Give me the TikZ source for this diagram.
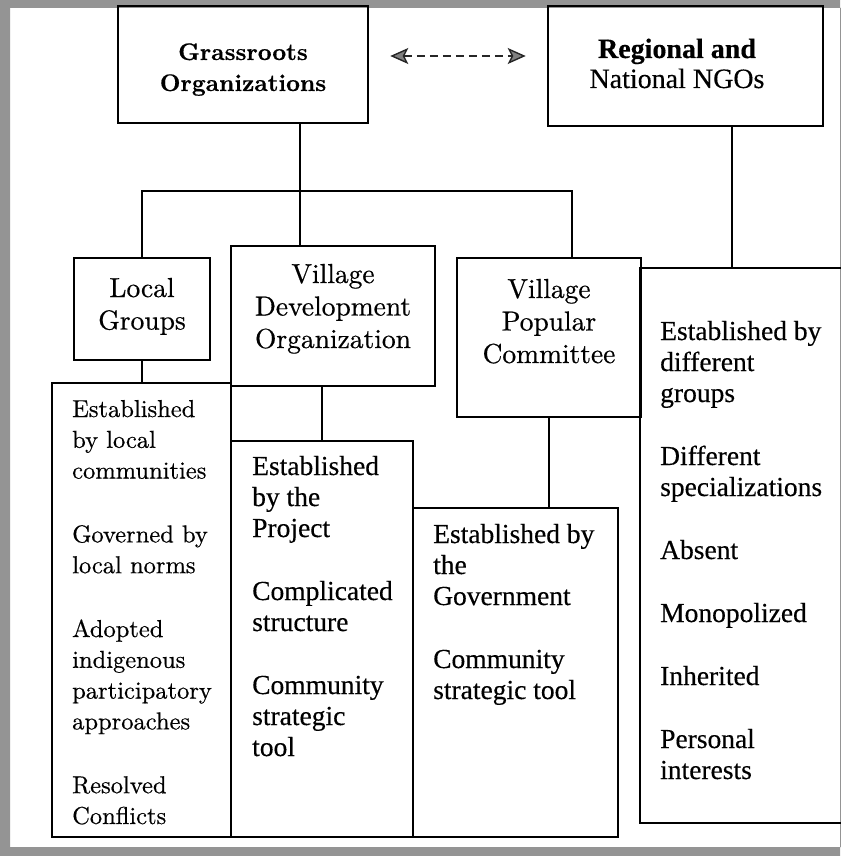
\documentclass[tikz,border=0pt]{standalone}
\usepackage{fontspec}
\setmainfont{lmroman10-regular.otf}[BoldFont=lmroman10-bold.otf, FakeBold=0.5]
\newfontfamily\tnr{Liberation Serif}[FakeBold=0.35]
\usetikzlibrary{arrows.meta}
\definecolor{framegray}{gray}{0.58}
\definecolor{tipgray}{gray}{0.5}
\tikzset{
  hbox/.style={draw=black, line width=2.6pt, inner sep=0pt},
  lbox/.style={draw=black, line width=1.3pt, inner sep=0pt},
  conn/.style={draw=black, line width=1.3pt},
  tipstyle/.style={},
  dasharrow/.style={draw=black!85, line width=2.6pt, dash pattern=on 8pt off 5pt,
    {Stealth[length=18pt,width=16pt,inset=4pt,fill=tipgray,line width=1.4pt]}-{Stealth[length=18pt,width=16pt,inset=4pt,fill=tipgray,line width=1.4pt]}},
  ttext/.style={inner sep=0pt, anchor=base west},
  ctext/.style={inner sep=0pt, anchor=base},
}
\newcommand{\hdr}[2]{\parbox[t]{#1}{\centering\fontsize{27.5}{32.5}\selectfont #2}}
\newcommand{\glist}[1]{\parbox[t]{165pt}{\raggedright\fontsize{24.5}{30.8}\selectfont #1}}
\newcommand{\tlist}[1]{\parbox[t]{178pt}{\raggedright\tnr\fontsize{27.5}{31}\selectfont #1}}
\begin{document}
\begin{tikzpicture}[x=1pt,y=-1pt]
\useasboundingbox (0,0) rectangle (840,856);
\fill[white] (0,0) rectangle (840,856);
% outer frame
\fill[framegray, even odd rule] (0,0) rectangle (840,856) (10,8) rectangle (850,847);

% list boxes
\node[lbox, minimum width=179pt, minimum height=454pt] (lglist) at (141.5,610) {};
\node[lbox, minimum width=182pt, minimum height=396pt] (vdolist) at (322,639) {};
\node[lbox, minimum width=205pt, minimum height=329pt] (vpclist) at (515.5,672.5) {};
\node[lbox, minimum width=220pt, minimum height=555pt] (rlist) at (750,545.5) {};

% header boxes
\node[hbox, minimum width=250pt, minimum height=117pt] (gr) at (243,64.5) {};
\node[hbox, minimum width=275pt, minimum height=120pt] (reg) at (685.5,66) {};
\node[hbox, minimum width=136pt, minimum height=102pt] (lg) at (142,309) {};
\node[hbox, minimum width=204pt, minimum height=140pt] (vdo) at (333,316) {};
\node[hbox, minimum width=184pt, minimum height=159pt] (vpc) at (549,337.5) {};

% connectors
\coordinate (ay) at (0,56);
\draw[dasharrow, shorten <=21pt, shorten >=21pt] (gr.east |- ay) -- (reg.west |- ay);
\coordinate (gx) at (300,0);
\coordinate (bl) at (142,191);
\coordinate (br) at (572,191);
\coordinate (rx) at (732,0);
\draw[conn] (gr.south -| gx) -- (vdo.north -| gx);
\draw[conn] (lg.north) -- (bl) -- (br) -- (br |- vpc.north);
\draw[conn] (reg.south -| rx) -- (rlist.north -| rx);
\draw[conn] (lg.south) -- (lg.south |- lglist.north);
\draw[conn] (vdolist.north) -- (vdolist.north |- vdo.south);
\draw[conn] (vpc.south) -- (vpc.south |- vpclist.north);

% header texts
\node[ctext] (grt) at (243,60) {\parbox[t]{240pt}{\centering\fontsize{24}{31}\selectfont\bfseries Grassroots\\Organizations}};
\node[ctext] (regt) at (677,58) {\parbox[t]{260pt}{\centering\tnr\fontsize{28}{30}\selectfont\textbf{Regional and}\\National NGOs}};
\node[ctext] (lgt) at (142,297) {\hdr{130pt}{Local\\Groups}};
\node[ctext] (vdot) at (333,283) {\hdr{200pt}{Village\\Development\\Organization}};
\node[ctext] (vpct) at (549,298) {\hdr{180pt}{Village\\Popular\\Committee}};

% list texts
\node[ttext] (lglt) at (72,417) {\glist{Established\\by local\\communities\\[33pt]Governed by\\local norms\\[33pt]Adopted\\indigenous\\participatory\\approaches\\[33pt]Resolved\\Conflicts}};
\node[ttext] (vdolt) at (252,475) {\tlist{Established\\by the\\Project\\[32pt]Complicated\\structure\\[32pt]Community\\strategic\\tool}};
\node[ttext] (vpclt) at (433,543) {\tlist{Established by\\the\\Government\\[32pt]Community\\strategic tool}};
\node[ttext] (rlt) at (660,340) {\tlist{Established by\\different\\groups\\[32pt]Different\\specializations\\[32pt]Absent\\[32pt]Monopolized\\[32pt]Inherited\\[32pt]Personal\\interests}};
\end{tikzpicture}
\end{document}
